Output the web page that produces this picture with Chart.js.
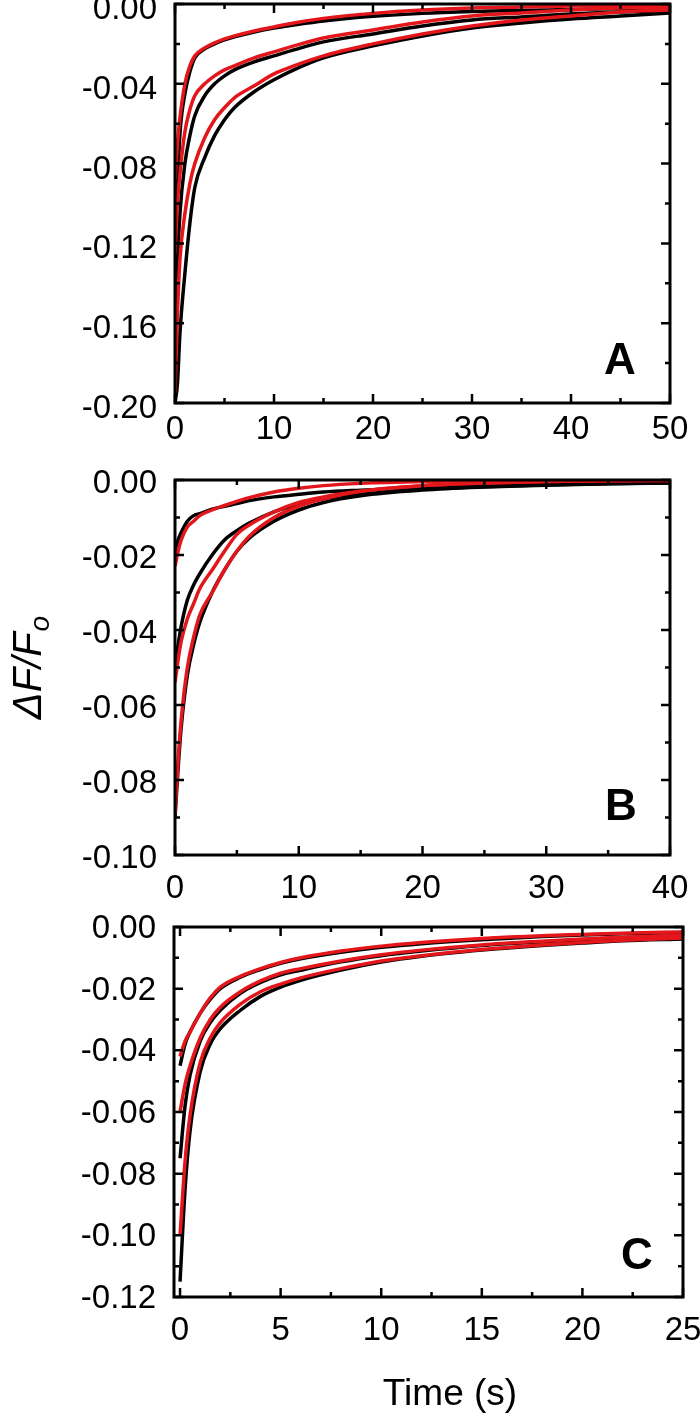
<!DOCTYPE html>
<html>
<head>
<meta charset="utf-8">
<script src="https://cdn.jsdelivr.net/npm/chart.js@4.4.1/dist/chart.umd.min.js"></script>
<style>
  html, body { margin: 0; padding: 0; background: #fff; }
  #wrap { position: relative; width: 700px; height: 1419px; }
  canvas { position: absolute; left: 0; top: 0; }
</style>
</head>
<body>
<div id="wrap">
  <canvas id="chartA" width="700" height="1419"></canvas>
  <canvas id="chartB" width="700" height="1419"></canvas>
  <canvas id="chartC" width="700" height="1419"></canvas>
</div>
<script>
// panel A – time points (s) and dF/Fo traces
const timeA = [0, 0.25, 0.5, 1, 1.5, 2, 3, 4, 5, 6, 8, 10, 12, 15, 20, 25, 30, 35, 40, 45, 50];
const fitA1 = [-0.088, -0.070, -0.057, -0.040, -0.031, -0.026, -0.022, -0.0195, -0.0175, -0.016, -0.0135, -0.0115, -0.0095, -0.0072, -0.0047, -0.003, -0.002, -0.0015, -0.001, -0.0007, -0.0005];
const fitA2 = [-0.125, -0.100, -0.085, -0.064, -0.053, -0.046, -0.040, -0.036, -0.033, -0.031, -0.027, -0.024, -0.021, -0.017, -0.013, -0.009, -0.006, -0.0045, -0.003, -0.002, -0.0015];
const fitA3 = [-0.195, -0.155, -0.128, -0.105, -0.090, -0.080, -0.067, -0.058, -0.052, -0.047, -0.041, -0.035, -0.031, -0.026, -0.020, -0.015, -0.011, -0.008, -0.006, -0.004, -0.003];
const dataA1 = [-0.120, -0.092, -0.065, -0.045, -0.034, -0.027, -0.0225, -0.020, -0.018, -0.0165, -0.014, -0.012, -0.0105, -0.0085, -0.0062, -0.0047, -0.0038, -0.0032, -0.0027, -0.0023, -0.002];
const dataA2 = [-0.170, -0.130, -0.105, -0.080, -0.066, -0.056, -0.046, -0.040, -0.036, -0.033, -0.029, -0.026, -0.023, -0.019, -0.015, -0.011, -0.008, -0.0065, -0.005, -0.004, -0.0033];
const dataA3 = [-0.200, -0.190, -0.165, -0.135, -0.110, -0.092, -0.077, -0.066, -0.058, -0.052, -0.044, -0.038, -0.033, -0.027, -0.021, -0.016, -0.012, -0.0095, -0.0075, -0.006, -0.0045];

// panel B
const timeB = [0, 0.25, 0.5, 1, 1.5, 2, 3, 4, 5, 6, 8, 10, 12, 15, 20, 25, 30, 35, 40];
const fitB1 = [-0.023, -0.019, -0.016, -0.0125, -0.011, -0.0095, -0.008, -0.0068, -0.0057, -0.0047, -0.0032, -0.0022, -0.0015, -0.0009, -0.0004, -0.0002, -0.0001, 0, 0];
const fitB2 = [-0.054, -0.048, -0.043, -0.037, -0.033, -0.029, -0.024, -0.019, -0.0145, -0.012, -0.0085, -0.006, -0.0045, -0.003, -0.0015, -0.0008, -0.0004, -0.0002, -0.0001];
const fitB3 = [-0.089, -0.075, -0.064, -0.050, -0.042, -0.036, -0.030, -0.024, -0.019, -0.015, -0.010, -0.007, -0.005, -0.003, -0.0015, -0.0008, -0.0004, -0.0002, -0.0001];
const dataB1 = [-0.019, -0.016, -0.014, -0.011, -0.0095, -0.009, -0.0078, -0.007, -0.0063, -0.0055, -0.0045, -0.0038, -0.0032, -0.0027, -0.002, -0.0015, -0.0012, -0.0009, -0.0007];
const dataB2 = [-0.050, -0.044, -0.039, -0.032, -0.028, -0.025, -0.020, -0.016, -0.0135, -0.0115, -0.0085, -0.0065, -0.005, -0.0038, -0.0025, -0.0018, -0.0013, -0.001, -0.0007];
const dataB3 = [-0.090, -0.077, -0.066, -0.052, -0.044, -0.038, -0.030, -0.024, -0.019, -0.0155, -0.011, -0.008, -0.006, -0.0042, -0.0027, -0.0019, -0.0014, -0.001, -0.0008];

// panel C
const timeC = [0, 0.25, 0.5, 1, 1.5, 2, 3, 4, 5, 6, 8, 10, 12, 15, 18, 20, 22, 25];
const fitC1 = [-0.042, -0.037, -0.034, -0.028, -0.023, -0.0195, -0.016, -0.0135, -0.0115, -0.010, -0.0078, -0.0062, -0.005, -0.0037, -0.0028, -0.0024, -0.002, -0.0016];
const fitC2 = [-0.060, -0.051, -0.045, -0.036, -0.030, -0.026, -0.021, -0.0175, -0.015, -0.0135, -0.011, -0.009, -0.0075, -0.0058, -0.0046, -0.0039, -0.0033, -0.0027];
const fitC3 = [-0.100, -0.076, -0.061, -0.044, -0.036, -0.031, -0.025, -0.021, -0.0185, -0.0165, -0.0135, -0.011, -0.0093, -0.0073, -0.0058, -0.005, -0.0043, -0.0036];
const dataC1 = [-0.045, -0.038, -0.034, -0.028, -0.0235, -0.020, -0.0163, -0.0138, -0.0118, -0.0103, -0.0082, -0.0066, -0.0054, -0.0041, -0.0031, -0.0026, -0.0022, -0.0018];
const dataC2 = [-0.075, -0.058, -0.048, -0.037, -0.031, -0.027, -0.0215, -0.018, -0.0155, -0.014, -0.0113, -0.0093, -0.0078, -0.006, -0.0048, -0.0041, -0.0035, -0.003];
const dataC3 = [-0.115, -0.085, -0.066, -0.047, -0.038, -0.033, -0.027, -0.0225, -0.0195, -0.0173, -0.014, -0.0114, -0.0095, -0.0075, -0.006, -0.0052, -0.0045, -0.0039];

// tick values (major get labels, minor are just marks)
const xTicksA = [0, 10, 20, 30, 40, 50];
const xMinorA = [5, 15, 25, 35, 45];
const yTicksA = [0, -0.04, -0.08, -0.12, -0.16, -0.20];
const yMinorA = [-0.02, -0.06, -0.10, -0.14, -0.18];
const xTicksB = [0, 10, 20, 30, 40];
const xMinorB = [5, 15, 25, 35];
const yTicksB = [0, -0.02, -0.04, -0.06, -0.08, -0.10];
const yMinorB = [-0.01, -0.03, -0.05, -0.07, -0.09];
const xTicksC = [0, 5, 10, 15, 20, 25];
const xMinorC = [2.5, 7.5, 12.5, 17.5, 22.5];
const yTicksC = [0, -0.02, -0.04, -0.06, -0.08, -0.10, -0.12];
const yMinorC = [-0.01, -0.03, -0.05, -0.07, -0.09, -0.11];

const RED = '#e3161b';
const FONT = "'Liberation Sans', Arial, sans-serif";

function pts(xs, ys) {
    return xs.map((x, i) => ({ x: x, y: ys[i] }));
}

function fitSet(xs, ys) {
    return { data: pts(xs, ys), borderColor: RED, borderWidth: 3.5, pointRadius: 0, cubicInterpolationMode: 'monotone', order: 0 };
}

function dataSet(xs, ys) {
    return { data: pts(xs, ys), borderColor: '#000', borderWidth: 3.5, pointRadius: 0, cubicInterpolationMode: 'monotone', order: 1 };
}

// box frame, inward ticks, panel letter and free text
const framePlugin = {
    id: 'frame',
    afterDraw(chart, args, opts) {
        const ctx = chart.ctx;
        const ca = chart.chartArea;
        const xs = chart.scales.x, ys = chart.scales.y;
        ctx.save();
        ctx.strokeStyle = '#000';
        ctx.lineWidth = 2.5;
        ctx.lineCap = 'butt';
        ctx.beginPath();
        function xTick(v, len) {
            const p = xs.getPixelForValue(v);
            ctx.moveTo(p, ca.bottom); ctx.lineTo(p, ca.bottom - len);
            ctx.moveTo(p, ca.top); ctx.lineTo(p, ca.top + len);
        }
        function yTick(v, len) {
            const p = ys.getPixelForValue(v);
            ctx.moveTo(ca.left, p); ctx.lineTo(ca.left + len, p);
            ctx.moveTo(ca.right, p); ctx.lineTo(ca.right - len, p);
        }
        opts.xMajor.forEach(v => xTick(v, 9));
        opts.xMinor.forEach(v => xTick(v, 5));
        opts.yMajor.forEach(v => yTick(v, 9));
        opts.yMinor.forEach(v => yTick(v, 5));
        ctx.stroke();
        ctx.lineWidth = 3;
        ctx.strokeRect(ca.left, ca.top, ca.right - ca.left, ca.bottom - ca.top);

        ctx.fillStyle = '#000';
        ctx.font = 'bold 44px ' + FONT;
        ctx.textAlign = 'center';
        ctx.textBaseline = 'middle';
        ctx.fillText(opts.letter, opts.lx, opts.ly);

        if (opts.yTitle) {
            ctx.save();
            ctx.translate(27, 668);
            ctx.rotate(-Math.PI / 2);
            ctx.textAlign = 'left';
            ctx.textBaseline = 'alphabetic';
            ctx.font = 'italic 40px ' + FONT;
            const main = '\u0394F/F';
            const w1 = ctx.measureText(main).width;
            ctx.font = 'italic 28px ' + FONT;
            const w2 = ctx.measureText('o').width;
            const start = -(w1 + w2) / 2;
            ctx.font = 'italic 40px ' + FONT;
            ctx.fillText(main, start, 14);
            ctx.font = 'italic 28px ' + FONT;
            ctx.fillText('o', start + w1 + 1, 22);
            ctx.restore();
        }
        if (opts.xTitle) {
            ctx.font = '37px ' + FONT;
            ctx.textAlign = 'center';
            ctx.textBaseline = 'middle';
            ctx.fillText(opts.xTitle, 450, 1395);
        }
        ctx.restore();
    }
};

function makePanel(id, cfg) {
    const xScale = {
        type: 'linear',
        min: cfg.xMin, max: cfg.xMax,
        grid: { display: false, drawTicks: false },
        border: { display: false },
        afterBuildTicks: s => { s.ticks = cfg.xTicks.map(v => ({ value: v })); },
        afterFit: s => { s.height = 60; s.paddingLeft = 0; s.paddingRight = 0; },
        ticks: {
            color: '#000', padding: cfg.xPad, maxRotation: 0, autoSkip: false,
            font: { family: FONT, size: 33 },
            callback: v => String(v)
        }
    };
    const yScale = {
        type: 'linear',
        min: cfg.yMin, max: 0,
        grid: { display: false, drawTicks: false },
        border: { display: false },
        afterBuildTicks: s => { s.ticks = cfg.yTicks.map(v => ({ value: v })); },
        afterFit: s => { s.width = cfg.left; s.paddingTop = 0; s.paddingBottom = 0; },
        ticks: {
            color: '#000', padding: 18, labelOffset: cfg.yOff, autoSkip: false,
            font: { family: FONT, size: 33 },
            callback: v => Number(v).toFixed(2)
        }
    };
    return new Chart(document.getElementById(id), {
        type: 'line',
        data: { datasets: cfg.sets },
        options: {
            responsive: false,
            animation: false,
            devicePixelRatio: 1,
            layout: { padding: { left: 0, top: cfg.top, right: 700 - cfg.right, bottom: 1419 - cfg.bottom - 60 } },
            scales: { x: xScale, y: yScale },
            plugins: {
                legend: { display: false },
                tooltip: { enabled: false },
                frame: {
                    xMajor: cfg.xTicks, xMinor: cfg.xMinor, yMajor: cfg.yTicks, yMinor: cfg.yMinor,
                    letter: cfg.letter, lx: cfg.lx, ly: cfg.ly,
                    yTitle: cfg.yTitle || false, xTitle: cfg.xTitle || ''
                }
            }
        },
        plugins: [framePlugin]
    });
}

makePanel('chartA', {
    left: 175, right: 670, top: 4, bottom: 403,
    xMin: 0, xMax: 50, yMin: -0.2, xPad: 7, yOff: 6,
    xTicks: xTicksA, xMinor: xMinorA, yTicks: yTicksA, yMinor: yMinorA,
    letter: 'A', lx: 620, ly: 362,
    sets: [fitSet(timeA, fitA1), fitSet(timeA, fitA2), fitSet(timeA, fitA3),
           dataSet(timeA, dataA1), dataSet(timeA, dataA2), dataSet(timeA, dataA3)]
});

makePanel('chartB', {
    left: 175, right: 670, top: 480, bottom: 855,
    xMin: 0, xMax: 40, yMin: -0.1, xPad: 14, yOff: 4,
    xTicks: xTicksB, xMinor: xMinorB, yTicks: yTicksB, yMinor: yMinorB,
    letter: 'B', lx: 621, ly: 808, yTitle: true,
    sets: [fitSet(timeB, fitB1), fitSet(timeB, fitB2), fitSet(timeB, fitB3),
           dataSet(timeB, dataB1), dataSet(timeB, dataB2), dataSet(timeB, dataB3)]
});

makePanel('chartC', {
    left: 174, right: 683, top: 927, bottom: 1297,
    xMin: -0.3, xMax: 25, yMin: -0.12, xPad: 14, yOff: 2,
    xTicks: xTicksC, xMinor: xMinorC, yTicks: yTicksC, yMinor: yMinorC,
    letter: 'C', lx: 637, ly: 1257, xTitle: 'Time (s)',
    sets: [fitSet(timeC, fitC1), fitSet(timeC, fitC2), fitSet(timeC, fitC3),
           dataSet(timeC, dataC1), dataSet(timeC, dataC2), dataSet(timeC, dataC3)]
});
</script>
</body>
</html>
